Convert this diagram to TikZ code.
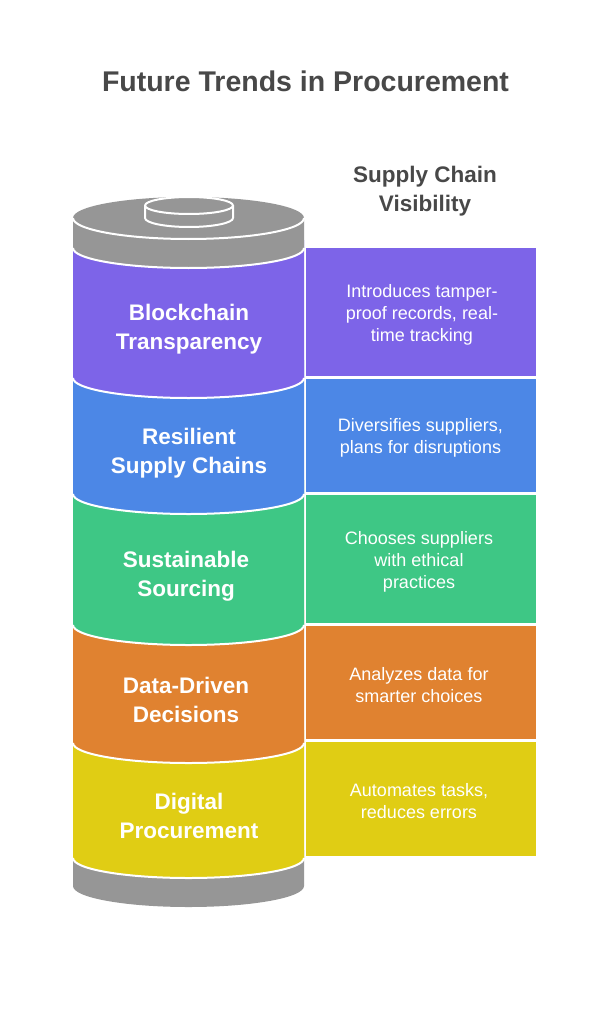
\documentclass[tikz,border=0pt]{standalone}
\usepackage{fontspec}
\setmainfont{Liberation Sans}
\definecolor{cpurple}{HTML}{7D64E8}
\definecolor{cblue}{HTML}{4C87E6}
\definecolor{cgreen}{HTML}{3EC785}
\definecolor{corange}{HTML}{E08230}
\definecolor{cyellow}{HTML}{E0CD14}
\definecolor{cgrey}{HTML}{969696}
\definecolor{cdark}{HTML}{484848}
\newcommand{\seg}[3]{\fill[#1] (73,#2) -- (73,#3) arc[start angle=180,end angle=0,x radius=115.5,y radius=20] -- (304,#2) -- cycle;
\draw[arcline] (73,#3) arc[start angle=180,end angle=0,x radius=115.5,y radius=20];}
\tikzset{
  arcline/.style={draw=white,line width=2pt,line cap=butt},
  lefttext/.style={text=white,font=\fontsize{22.5}{29}\selectfont\bfseries,align=center,inner sep=0pt},
  sidetext/.style={text=white,font=\fontsize{18}{22}\selectfont,align=center,inner sep=0pt},
  headtext/.style={text=cdark,font=\fontsize{22.5}{29}\selectfont\bfseries,align=center,inner sep=0pt},
}
\begin{document}
\begin{tikzpicture}[x=1pt,y=-1pt]
\useasboundingbox (0,0) rectangle (610,1024);
\fill[white] (0,0) rectangle (610,1024);
\node[text=cdark,font=\fontsize{28.5}{34}\selectfont\bfseries,inner sep=0pt] (title) at (305.5,81) {Future Trends in Procurement};
\node[headtext] (head) at (425,191) {Supply Chain\\Visibility};
% stack, bottom to top
\fill[cgrey] (73,850) -- (73,886) arc[start angle=180,end angle=0,x radius=115.5,y radius=21] -- (304,850) -- cycle;
\seg{cyellow}{730}{858}
\seg{corange}{610}{743}
\seg{cgreen}{480}{625}
\seg{cblue}{360}{494}
\seg{cpurple}{240}{378}
% top cap
\fill[cgrey] (73,218) -- (73,248) arc[start angle=180,end angle=0,x radius=115.5,y radius=20] -- (304,218) arc[start angle=0,end angle=-180,x radius=115.5,y radius=21] -- cycle;
\draw[arcline] (73,248) arc[start angle=180,end angle=0,x radius=115.5,y radius=20];
\draw[arcline] (73,218) arc[start angle=180,end angle=0,x radius=115.5,y radius=21];
% small cylinder
\fill[cgrey] (145,205.5) -- (145,218) arc[start angle=180,end angle=0,x radius=44,y radius=9] -- (233,205.5) arc[start angle=0,end angle=-180,x radius=44,y radius=8.5] -- cycle;
\draw[arcline] (145,205.5) -- (145,218) arc[start angle=180,end angle=0,x radius=44,y radius=9] -- (233,205.5) arc[start angle=0,end angle=-180,x radius=44,y radius=8.5] -- cycle;
\draw[arcline] (145,205.5) arc[start angle=180,end angle=0,x radius=44,y radius=8.5];
% side boxes
\fill[cpurple] (306,248) rectangle (536,376);
\fill[cblue] (306,379) rectangle (536,492);
\fill[cgreen] (306,495) rectangle (536,623);
\fill[corange] (306,626) rectangle (536,739);
\fill[cyellow] (306,742) rectangle (536,856);
% labels
\node[lefttext] (l1) at (189,329) {Blockchain\\Transparency};
\node[lefttext] (l2) at (189,453) {Resilient\\Supply Chains};
\node[lefttext] (l3) at (186,576.5) {Sustainable\\Sourcing};
\node[lefttext] (l4) at (186,700) {Data-Driven\\Decisions};
\node[lefttext] (l5) at (189,816) {Digital\\Procurement};
\node[sidetext] (r1) at (422,315) {Introduces tamper-\\proof records, real-\\time tracking};
\node[sidetext] (r2) at (420.5,438) {Diversifies suppliers,\\plans for disruptions};
\node[sidetext] (r3) at (419,561.5) {Chooses suppliers\\with ethical\\practices};
\node[sidetext] (r4) at (419,685) {Analyzes data for\\smarter choices};
\node[sidetext] (r5) at (419,801.5) {Automates tasks,\\reduces errors};
\end{tikzpicture}
\end{document}
